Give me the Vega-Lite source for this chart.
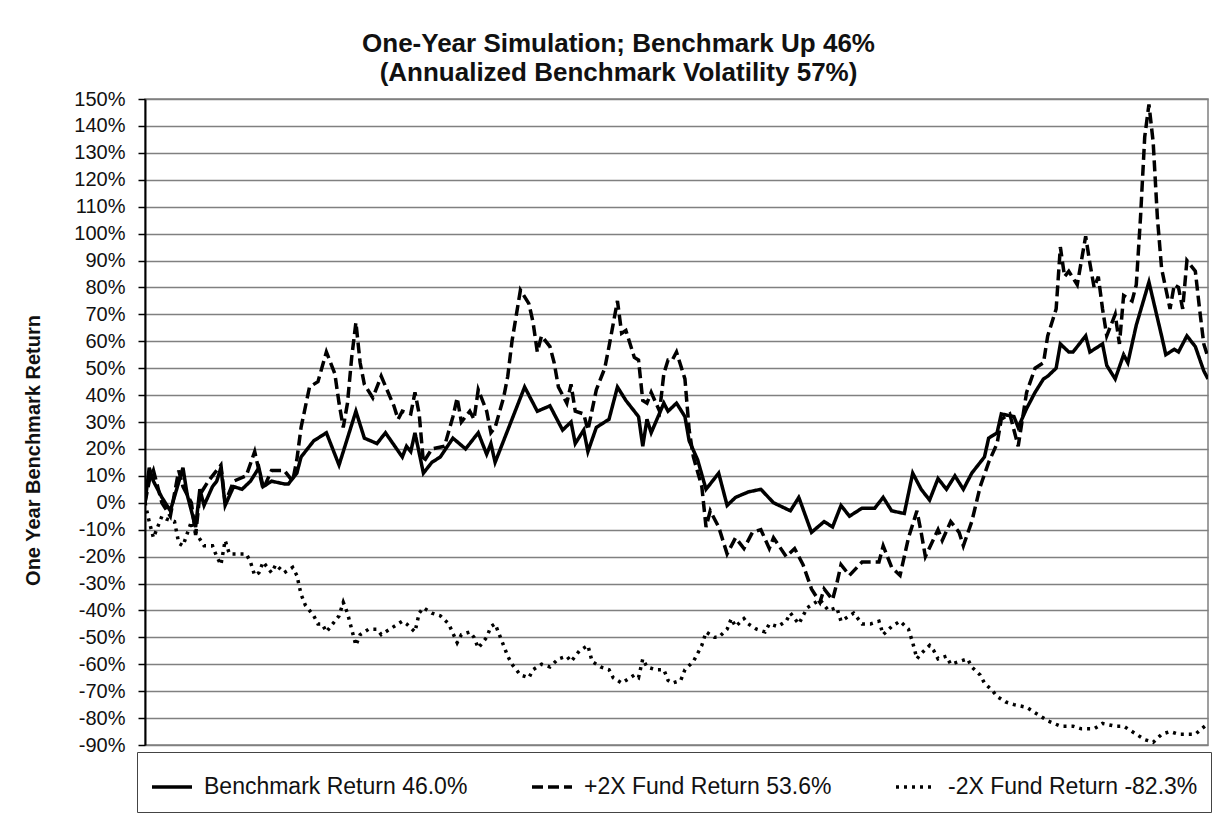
{
  "$schema": "https://vega.github.io/schema/vega-lite/v6.json",
  "width": 1063,
  "height": 646,
  "autosize": {"type": "none"},
  "padding": {"left": 145, "top": 99, "right": 7, "bottom": 74},
  "background": "white",
  "title": {
    "text": ["One-Year Simulation; Benchmark Up 46%", "(Annualized Benchmark Volatility 57%)"],
    "font": "Liberation Sans",
    "fontSize": 26,
    "fontWeight": "bold",
    "color": "#111111",
    "anchor": "middle",
    "dx": -58,
    "lineHeight": 29,
    "offset": 3
  },
  "config": {
    "view": {"stroke": "#808080", "strokeWidth": 1.5},
    "font": "Liberation Sans"
  },
  "data": {
    "values": [
      {"s":"B","d":0,"v":0},{"s":"B","d":1,"v":13},{"s":"B","d":2,"v":8},{"s":"B","d":4,"v":2},{"s":"B","d":6,"v":-3},{"s":"B","d":9,"v":13},{"s":"B","d":10,"v":3},{"s":"B","d":12,"v":-9},{"s":"B","d":13,"v":5},{"s":"B","d":14,"v":-1},{"s":"B","d":16,"v":6},{"s":"B","d":17,"v":8},{"s":"B","d":18,"v":13},{"s":"B","d":19,"v":-1},{"s":"B","d":21,"v":6},{"s":"B","d":23,"v":5},{"s":"B","d":25,"v":8},{"s":"B","d":27,"v":13},{"s":"B","d":28,"v":6},{"s":"B","d":30,"v":8},{"s":"B","d":33,"v":7},{"s":"B","d":34,"v":7},{"s":"B","d":36,"v":11},{"s":"B","d":37,"v":17},{"s":"B","d":40,"v":23},{"s":"B","d":41,"v":24},{"s":"B","d":43,"v":26},{"s":"B","d":46,"v":14},{"s":"B","d":48,"v":24},{"s":"B","d":50,"v":34},{"s":"B","d":52,"v":24},{"s":"B","d":55,"v":22},{"s":"B","d":57,"v":26},{"s":"B","d":61,"v":17},{"s":"B","d":62,"v":21},{"s":"B","d":63,"v":19},{"s":"B","d":64,"v":26},{"s":"B","d":66,"v":11},{"s":"B","d":68,"v":15},{"s":"B","d":70,"v":17},{"s":"B","d":73,"v":24},{"s":"B","d":76,"v":20},{"s":"B","d":79,"v":26},{"s":"B","d":81,"v":18},{"s":"B","d":82,"v":22},{"s":"B","d":83,"v":15},{"s":"B","d":86,"v":27},{"s":"B","d":90,"v":43},{"s":"B","d":93,"v":34},{"s":"B","d":96,"v":36},{"s":"B","d":99,"v":27},{"s":"B","d":101,"v":30},{"s":"B","d":102,"v":22},{"s":"B","d":104,"v":27},{"s":"B","d":105,"v":19},{"s":"B","d":107,"v":28},{"s":"B","d":110,"v":31},{"s":"B","d":112,"v":43},{"s":"B","d":114,"v":38},{"s":"B","d":117,"v":32},{"s":"B","d":118,"v":21},{"s":"B","d":119,"v":31},{"s":"B","d":120,"v":26},{"s":"B","d":123,"v":37},{"s":"B","d":124,"v":34},{"s":"B","d":126,"v":37},{"s":"B","d":128,"v":32},{"s":"B","d":129,"v":23},{"s":"B","d":131,"v":16},{"s":"B","d":133,"v":5},{"s":"B","d":136,"v":11},{"s":"B","d":138,"v":-1},{"s":"B","d":140,"v":2},{"s":"B","d":143,"v":4},{"s":"B","d":146,"v":5},{"s":"B","d":149,"v":0},{"s":"B","d":153,"v":-3},{"s":"B","d":155,"v":2},{"s":"B","d":158,"v":-11},{"s":"B","d":161,"v":-7},{"s":"B","d":163,"v":-9},{"s":"B","d":165,"v":-1},{"s":"B","d":167,"v":-5},{"s":"B","d":170,"v":-2},{"s":"B","d":173,"v":-2},{"s":"B","d":175,"v":2},{"s":"B","d":177,"v":-3},{"s":"B","d":180,"v":-4},{"s":"B","d":182,"v":11},{"s":"B","d":184,"v":5},{"s":"B","d":186,"v":1},{"s":"B","d":188,"v":9},{"s":"B","d":190,"v":5},{"s":"B","d":192,"v":10},{"s":"B","d":194,"v":5},{"s":"B","d":196,"v":11},{"s":"B","d":199,"v":17},{"s":"B","d":200,"v":24},{"s":"B","d":202,"v":26},{"s":"B","d":203,"v":33},{"s":"B","d":206,"v":32},{"s":"B","d":207,"v":28},{"s":"B","d":209,"v":35},{"s":"B","d":211,"v":41},{"s":"B","d":213,"v":46},{"s":"B","d":214,"v":47},{"s":"B","d":216,"v":50},{"s":"B","d":217,"v":59},{"s":"B","d":219,"v":56},{"s":"B","d":220,"v":56},{"s":"B","d":223,"v":62},{"s":"B","d":224,"v":56},{"s":"B","d":227,"v":59},{"s":"B","d":228,"v":51},{"s":"B","d":230,"v":46},{"s":"B","d":232,"v":55},{"s":"B","d":233,"v":52},{"s":"B","d":235,"v":66},{"s":"B","d":238,"v":82},{"s":"B","d":241,"v":62},{"s":"B","d":242,"v":55},{"s":"B","d":244,"v":57},{"s":"B","d":245,"v":56},{"s":"B","d":247,"v":62},{"s":"B","d":249,"v":58},{"s":"B","d":251,"v":49},{"s":"B","d":252,"v":46},
      {"s":"P","d":0,"v":0},{"s":"P","d":1,"v":8},{"s":"P","d":2,"v":12},{"s":"P","d":4,"v":0},{"s":"P","d":6,"v":-5},{"s":"P","d":8,"v":12},{"s":"P","d":9,"v":6},{"s":"P","d":11,"v":0},{"s":"P","d":12,"v":-12},{"s":"P","d":13,"v":3},{"s":"P","d":15,"v":8},{"s":"P","d":18,"v":14},{"s":"P","d":19,"v":0},{"s":"P","d":21,"v":8},{"s":"P","d":24,"v":10},{"s":"P","d":26,"v":19},{"s":"P","d":28,"v":5},{"s":"P","d":30,"v":12},{"s":"P","d":33,"v":12},{"s":"P","d":35,"v":8},{"s":"P","d":36,"v":16},{"s":"P","d":37,"v":28},{"s":"P","d":39,"v":43},{"s":"P","d":41,"v":45},{"s":"P","d":43,"v":56},{"s":"P","d":45,"v":48},{"s":"P","d":46,"v":37},{"s":"P","d":47,"v":28},{"s":"P","d":48,"v":37},{"s":"P","d":49,"v":54},{"s":"P","d":50,"v":67},{"s":"P","d":51,"v":52},{"s":"P","d":52,"v":44},{"s":"P","d":54,"v":39},{"s":"P","d":56,"v":47},{"s":"P","d":59,"v":36},{"s":"P","d":60,"v":31},{"s":"P","d":61,"v":34},{"s":"P","d":63,"v":33},{"s":"P","d":64,"v":41},{"s":"P","d":65,"v":33},{"s":"P","d":66,"v":15},{"s":"P","d":68,"v":20},{"s":"P","d":71,"v":21},{"s":"P","d":73,"v":32},{"s":"P","d":74,"v":39},{"s":"P","d":75,"v":30},{"s":"P","d":77,"v":34},{"s":"P","d":78,"v":31},{"s":"P","d":79,"v":42},{"s":"P","d":81,"v":34},{"s":"P","d":82,"v":26},{"s":"P","d":83,"v":28},{"s":"P","d":85,"v":39},{"s":"P","d":86,"v":47},{"s":"P","d":87,"v":60},{"s":"P","d":89,"v":79},{"s":"P","d":91,"v":74},{"s":"P","d":92,"v":67},{"s":"P","d":93,"v":56},{"s":"P","d":94,"v":62},{"s":"P","d":96,"v":58},{"s":"P","d":97,"v":52},{"s":"P","d":98,"v":43},{"s":"P","d":100,"v":37},{"s":"P","d":101,"v":44},{"s":"P","d":102,"v":34},{"s":"P","d":104,"v":33},{"s":"P","d":105,"v":27},{"s":"P","d":107,"v":42},{"s":"P","d":109,"v":50},{"s":"P","d":110,"v":58},{"s":"P","d":112,"v":75},{"s":"P","d":113,"v":63},{"s":"P","d":114,"v":64},{"s":"P","d":116,"v":54},{"s":"P","d":117,"v":53},{"s":"P","d":118,"v":38},{"s":"P","d":119,"v":37},{"s":"P","d":120,"v":41},{"s":"P","d":122,"v":34},{"s":"P","d":123,"v":48},{"s":"P","d":124,"v":53},{"s":"P","d":125,"v":53},{"s":"P","d":126,"v":56},{"s":"P","d":128,"v":46},{"s":"P","d":129,"v":27},{"s":"P","d":130,"v":17},{"s":"P","d":132,"v":6},{"s":"P","d":133,"v":-9},{"s":"P","d":134,"v":-3},{"s":"P","d":136,"v":-9},{"s":"P","d":138,"v":-19},{"s":"P","d":140,"v":-13},{"s":"P","d":142,"v":-17},{"s":"P","d":144,"v":-11},{"s":"P","d":146,"v":-10},{"s":"P","d":148,"v":-17},{"s":"P","d":149,"v":-13},{"s":"P","d":152,"v":-20},{"s":"P","d":154,"v":-17},{"s":"P","d":156,"v":-23},{"s":"P","d":158,"v":-32},{"s":"P","d":160,"v":-37},{"s":"P","d":161,"v":-32},{"s":"P","d":163,"v":-36},{"s":"P","d":164,"v":-30},{"s":"P","d":165,"v":-23},{"s":"P","d":167,"v":-27},{"s":"P","d":170,"v":-22},{"s":"P","d":172,"v":-22},{"s":"P","d":174,"v":-22},{"s":"P","d":175,"v":-16},{"s":"P","d":177,"v":-24},{"s":"P","d":179,"v":-27},{"s":"P","d":181,"v":-13},{"s":"P","d":183,"v":-3},{"s":"P","d":184,"v":-11},{"s":"P","d":185,"v":-20},{"s":"P","d":188,"v":-10},{"s":"P","d":189,"v":-14},{"s":"P","d":191,"v":-7},{"s":"P","d":193,"v":-11},{"s":"P","d":194,"v":-16},{"s":"P","d":196,"v":-7},{"s":"P","d":198,"v":6},{"s":"P","d":200,"v":15},{"s":"P","d":202,"v":22},{"s":"P","d":203,"v":31},{"s":"P","d":205,"v":33},{"s":"P","d":207,"v":21},{"s":"P","d":209,"v":41},{"s":"P","d":211,"v":50},{"s":"P","d":213,"v":52},{"s":"P","d":214,"v":62},{"s":"P","d":216,"v":72},{"s":"P","d":217,"v":95},{"s":"P","d":218,"v":84},{"s":"P","d":219,"v":86},{"s":"P","d":221,"v":81},{"s":"P","d":222,"v":90},{"s":"P","d":223,"v":99},{"s":"P","d":224,"v":89},{"s":"P","d":225,"v":80},{"s":"P","d":226,"v":84},{"s":"P","d":227,"v":72},{"s":"P","d":228,"v":62},{"s":"P","d":230,"v":70},{"s":"P","d":231,"v":59},{"s":"P","d":232,"v":77},{"s":"P","d":234,"v":75},{"s":"P","d":235,"v":81},{"s":"P","d":236,"v":106},{"s":"P","d":237,"v":136},{"s":"P","d":238,"v":148},{"s":"P","d":239,"v":134},{"s":"P","d":240,"v":106},{"s":"P","d":241,"v":87},{"s":"P","d":243,"v":72},{"s":"P","d":244,"v":81},{"s":"P","d":245,"v":80},{"s":"P","d":246,"v":72},{"s":"P","d":247,"v":90},{"s":"P","d":249,"v":86},{"s":"P","d":250,"v":72},{"s":"P","d":251,"v":59},{"s":"P","d":252,"v":54},
      {"s":"M","d":0,"v":0},{"s":"M","d":1,"v":-7},{"s":"M","d":2,"v":-13},{"s":"M","d":3,"v":-9},{"s":"M","d":4,"v":-5},{"s":"M","d":5,"v":-6},{"s":"M","d":7,"v":-7},{"s":"M","d":8,"v":-15},{"s":"M","d":9,"v":-16},{"s":"M","d":11,"v":-7},{"s":"M","d":12,"v":-11},{"s":"M","d":14,"v":-16},{"s":"M","d":16,"v":-16},{"s":"M","d":17,"v":-20},{"s":"M","d":18,"v":-23},{"s":"M","d":19,"v":-14},{"s":"M","d":20,"v":-19},{"s":"M","d":22,"v":-19},{"s":"M","d":24,"v":-19},{"s":"M","d":25,"v":-22},{"s":"M","d":26,"v":-27},{"s":"M","d":27,"v":-26},{"s":"M","d":28,"v":-22},{"s":"M","d":30,"v":-26},{"s":"M","d":31,"v":-23},{"s":"M","d":33,"v":-26},{"s":"M","d":35,"v":-24},{"s":"M","d":36,"v":-27},{"s":"M","d":37,"v":-34},{"s":"M","d":38,"v":-38},{"s":"M","d":40,"v":-42},{"s":"M","d":41,"v":-45},{"s":"M","d":42,"v":-45},{"s":"M","d":43,"v":-48},{"s":"M","d":46,"v":-42},{"s":"M","d":47,"v":-37},{"s":"M","d":48,"v":-41},{"s":"M","d":49,"v":-47},{"s":"M","d":50,"v":-53},{"s":"M","d":51,"v":-49},{"s":"M","d":53,"v":-47},{"s":"M","d":55,"v":-47},{"s":"M","d":56,"v":-49},{"s":"M","d":58,"v":-47},{"s":"M","d":60,"v":-45},{"s":"M","d":61,"v":-44},{"s":"M","d":62,"v":-45},{"s":"M","d":64,"v":-48},{"s":"M","d":65,"v":-41},{"s":"M","d":66,"v":-39},{"s":"M","d":68,"v":-41},{"s":"M","d":70,"v":-42},{"s":"M","d":72,"v":-45},{"s":"M","d":74,"v":-52},{"s":"M","d":75,"v":-49},{"s":"M","d":77,"v":-48},{"s":"M","d":78,"v":-50},{"s":"M","d":79,"v":-54},{"s":"M","d":81,"v":-50},{"s":"M","d":82,"v":-46},{"s":"M","d":83,"v":-45},{"s":"M","d":84,"v":-49},{"s":"M","d":85,"v":-53},{"s":"M","d":86,"v":-57},{"s":"M","d":87,"v":-60},{"s":"M","d":89,"v":-64},{"s":"M","d":91,"v":-65},{"s":"M","d":92,"v":-62},{"s":"M","d":94,"v":-60},{"s":"M","d":96,"v":-61},{"s":"M","d":98,"v":-58},{"s":"M","d":100,"v":-57},{"s":"M","d":101,"v":-59},{"s":"M","d":103,"v":-55},{"s":"M","d":105,"v":-53},{"s":"M","d":106,"v":-59},{"s":"M","d":108,"v":-61},{"s":"M","d":110,"v":-62},{"s":"M","d":111,"v":-65},{"s":"M","d":113,"v":-67},{"s":"M","d":114,"v":-66},{"s":"M","d":116,"v":-64},{"s":"M","d":117,"v":-65},{"s":"M","d":118,"v":-58},{"s":"M","d":119,"v":-61},{"s":"M","d":121,"v":-62},{"s":"M","d":123,"v":-62},{"s":"M","d":124,"v":-66},{"s":"M","d":125,"v":-67},{"s":"M","d":127,"v":-66},{"s":"M","d":128,"v":-62},{"s":"M","d":130,"v":-59},{"s":"M","d":131,"v":-56},{"s":"M","d":132,"v":-53},{"s":"M","d":133,"v":-48},{"s":"M","d":135,"v":-50},{"s":"M","d":136,"v":-50},{"s":"M","d":138,"v":-47},{"s":"M","d":139,"v":-43},{"s":"M","d":140,"v":-46},{"s":"M","d":142,"v":-43},{"s":"M","d":143,"v":-45},{"s":"M","d":145,"v":-47},{"s":"M","d":147,"v":-48},{"s":"M","d":148,"v":-45},{"s":"M","d":150,"v":-46},{"s":"M","d":152,"v":-44},{"s":"M","d":153,"v":-41},{"s":"M","d":155,"v":-45},{"s":"M","d":156,"v":-42},{"s":"M","d":157,"v":-39},{"s":"M","d":160,"v":-36},{"s":"M","d":162,"v":-40},{"s":"M","d":164,"v":-39},{"s":"M","d":165,"v":-44},{"s":"M","d":168,"v":-41},{"s":"M","d":170,"v":-45},{"s":"M","d":172,"v":-45},{"s":"M","d":174,"v":-44},{"s":"M","d":175,"v":-49},{"s":"M","d":177,"v":-46},{"s":"M","d":179,"v":-44},{"s":"M","d":181,"v":-47},{"s":"M","d":182,"v":-52},{"s":"M","d":183,"v":-58},{"s":"M","d":184,"v":-56},{"s":"M","d":186,"v":-53},{"s":"M","d":187,"v":-55},{"s":"M","d":188,"v":-58},{"s":"M","d":190,"v":-57},{"s":"M","d":191,"v":-60},{"s":"M","d":193,"v":-59},{"s":"M","d":195,"v":-58},{"s":"M","d":196,"v":-61},{"s":"M","d":198,"v":-64},{"s":"M","d":199,"v":-67},{"s":"M","d":201,"v":-70},{"s":"M","d":202,"v":-72},{"s":"M","d":204,"v":-74},{"s":"M","d":206,"v":-75},{"s":"M","d":209,"v":-76},{"s":"M","d":212,"v":-79},{"s":"M","d":214,"v":-81},{"s":"M","d":217,"v":-83},{"s":"M","d":220,"v":-83},{"s":"M","d":222,"v":-84},{"s":"M","d":225,"v":-84},{"s":"M","d":227,"v":-82},{"s":"M","d":230,"v":-83},{"s":"M","d":232,"v":-83},{"s":"M","d":235,"v":-86},{"s":"M","d":237,"v":-88},{"s":"M","d":239,"v":-89},{"s":"M","d":241,"v":-86},{"s":"M","d":243,"v":-85},{"s":"M","d":245,"v":-86},{"s":"M","d":247,"v":-86},{"s":"M","d":249,"v":-86},{"s":"M","d":252,"v":-82}
    ]
  },
  "mark": {"type": "line", "color": "black", "strokeWidth": 3.5, "strokeCap": "butt", "clip": true},
  "encoding": {
    "x": {"field": "d", "type": "quantitative", "scale": {"domain": [0, 252], "nice": false, "zero": false}, "axis": null},
    "y": {
      "field": "v",
      "type": "quantitative",
      "scale": {"domain": [-90, 150], "nice": false},
      "axis": {
        "values": [-90,-80,-70,-60,-50,-40,-30,-20,-10,0,10,20,30,40,50,60,70,80,90,100,110,120,130,140,150],
        "labelExpr": "datum.value + '%'",
        "labelFont": "Liberation Sans",
        "labelFontSize": 20,
        "labelColor": "#111111",
        "labelPadding": 13,
        "tickSize": 7,
        "tickColor": "black",
        "tickWidth": 1.5,
        "domainColor": "black",
        "domainWidth": 2,
        "gridColor": "#808080",
        "gridWidth": 1.5,
        "title": "One Year Benchmark Return",
        "titleFont": "Liberation Sans",
        "titleFontSize": 20,
        "titleFontWeight": "bold",
        "titleColor": "#111111",
        "titlePadding": 30,
        "titleY": 351
      }
    },
    "strokeDash": {
      "field": "s",
      "type": "nominal",
      "scale": {"domain": ["B", "P", "M"], "range": [[1, 0], [11, 5], [3, 5]]},
      "legend": {
        "orient": "none",
        "legendX": -8,
        "legendY": 653,
        "direction": "horizontal",
        "title": null,
        "labelExpr": "datum.value == 'B' ? 'Benchmark Return 46.0%' : datum.value == 'P' ? '+2X Fund Return 53.6%' : '-2X Fund Return -82.3%'",
        "labelFont": "Liberation Sans",
        "labelFontSize": 23,
        "labelColor": "#111111",
        "labelLimit": 500,
        "labelOffset": 10,
        "symbolType": "stroke",
        "symbolSize": 1600,
        "symbolStrokeWidth": 3.5,
        "symbolStrokeColor": "black",
        "columnPadding": 57,
        "strokeColor": "#444444",
        "padding": 13
      }
    }
  }
}
